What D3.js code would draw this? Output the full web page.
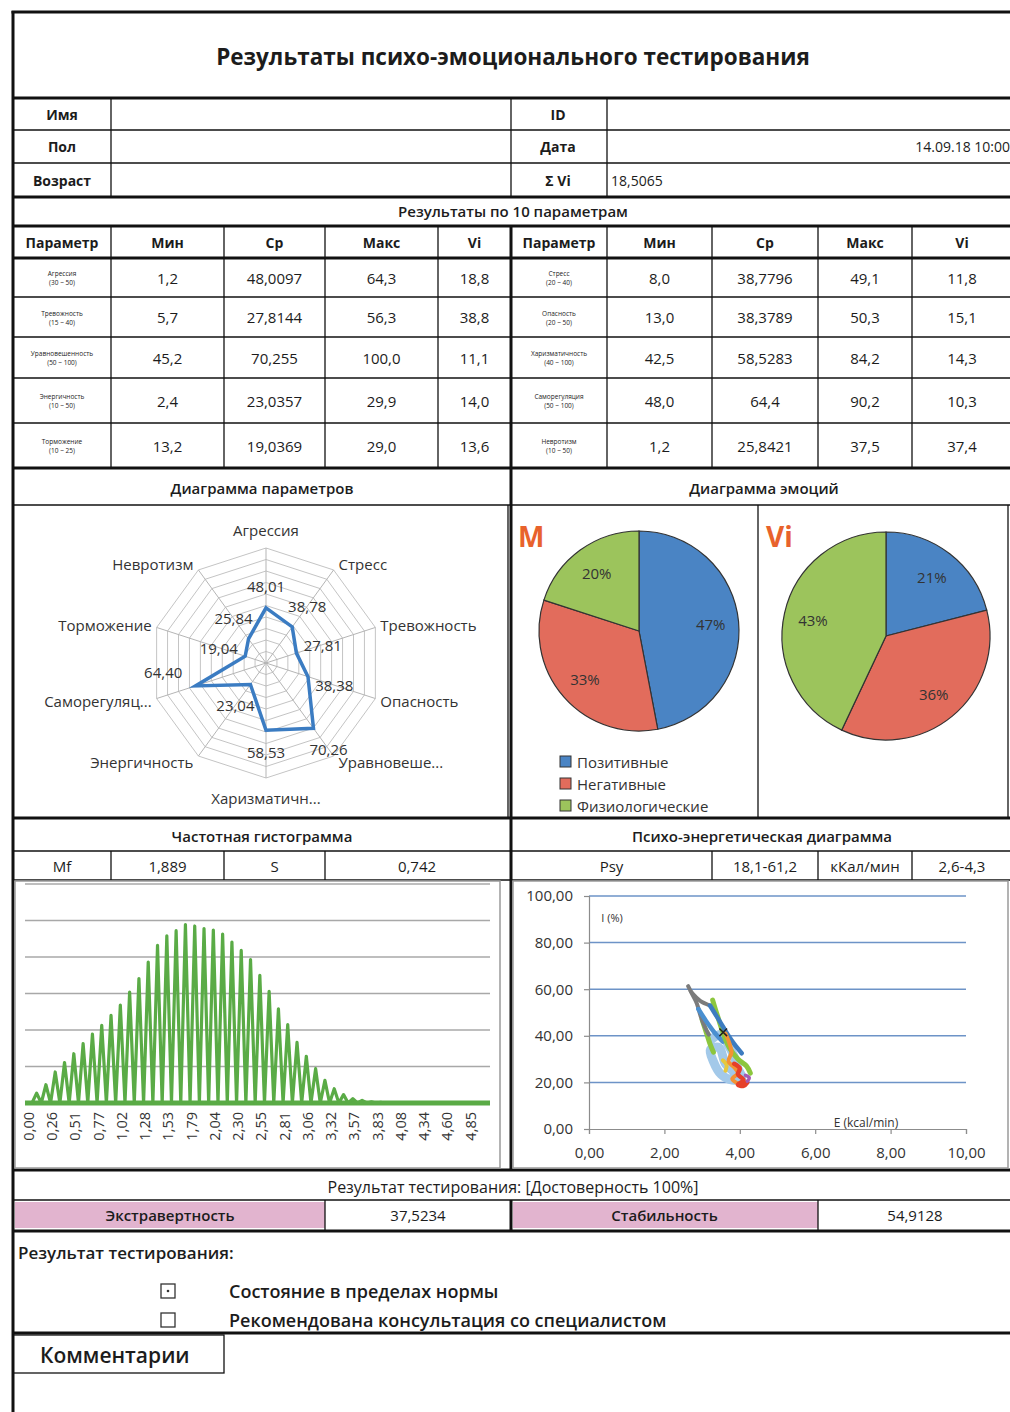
<!DOCTYPE html>
<html>
<head>
<meta charset="utf-8">
<script src="https://cdn.jsdelivr.net/npm/d3@7"></script>
<style>
  body { margin: 0; background: #fff; }
</style>
</head>
<body>
<div id="sheet"></div>
<script>
const width = 1010
const height = 1412

// --- header block
const reportTitle = "Результаты психо-эмоционального тестирования"
const infoLabels = ["Имя", "Пол", "Возраст"]
const infoLabels2 = ["ID", "Дата", "Σ Vi"]
const infoValues2 = ["", "14.09.18 10:00", "18,5065"]

// --- parameter table
const tableHead = ["Параметр", "Мин", "Ср", "Макс", "Vi"]
const leftParams = ["Агрессия", "Тревожность", "Уравновешенность", "Энергичность", "Торможение"]
const leftRanges = ["(30 ~ 50)", "(15 ~ 40)", "(50 ~ 100)", "(10 ~ 50)", "(10 ~ 25)"]
const leftMin = ["1,2", "5,7", "45,2", "2,4", "13,2"]
const leftAvg = ["48,0097", "27,8144", "70,255", "23,0357", "19,0369"]
const leftMax = ["64,3", "56,3", "100,0", "29,9", "29,0"]
const leftVi = ["18,8", "38,8", "11,1", "14,0", "13,6"]
const rightParams = ["Стресс", "Опасность", "Харизматичность", "Саморегуляция", "Невротизм"]
const rightRanges = ["(20 ~ 40)", "(20 ~ 50)", "(40 ~ 100)", "(50 ~ 100)", "(10 ~ 50)"]
const rightMin = ["8,0", "13,0", "42,5", "48,0", "1,2"]
const rightAvg = ["38,7796", "38,3789", "58,5283", "64,4", "25,8421"]
const rightMax = ["49,1", "50,3", "84,2", "90,2", "37,5"]
const rightVi = ["11,8", "15,1", "14,3", "10,3", "37,4"]

// --- radar
const radarAxes = ["Агрессия", "Стресс", "Тревожность", "Опасность", "Уравновеше...",
  "Харизматичн...", "Энергичность", "Саморегуляц...", "Торможение", "Невротизм"]
const radarValues = [48.01, 38.78, 27.81, 38.38, 70.26, 58.53, 23.04, 64.40, 19.04, 25.84]

// --- pies
const emotionNames = ["Позитивные", "Негативные", "Физиологические"]
const emotionM = [47, 33, 20]
const emotionVi = [21, 36, 43]
const emotionColors = ["#4a84c4", "#e26c5c", "#9cc45c"]

// --- histogram
const histStats = ["Mf", "1,889", "S", "0,742"]
const histValues = [
  0, 0, 2.7, 0, 5.0, 0, 8.5, 0, 11.1, 0,
  13.5, 0, 16.3, 0, 18.9, 0, 21.3, 0, 24.0, 0,
  26.8, 0, 30.4, 0, 34.1, 0, 38.6, 0, 43.2, 0,
  45.8, 0, 47.2, 0, 48.9, 0, 48.5, 0, 47.8, 0,
  47.4, 0, 46.3, 0, 44.1, 0, 41.8, 0, 39.3, 0,
  35.0, 0, 30.6, 0, 25.8, 0, 21.5, 0, 16.6, 0,
  12.8, 0, 9.4, 0, 6.2, 0, 3.9, 0, 2.3, 0,
  1.2, 0, 0.7, 0, 0.3, 0, 0.2, 0, 0, 0,
  0, 0, 0, 0, 0, 0, 0, 0, 0, 0,
  0, 0, 0, 0, 0, 0, 0, 0, 0, 0
]
const histLabels = ["0,00", "0,26", "0,51", "0,77", "1,02", "1,28", "1,53", "1,79", "2,04", "2,30",
  "2,55", "2,81", "3,06", "3,32", "3,57", "3,83", "4,08", "4,34", "4,60", "4,85"]

// --- psycho-energy diagram
const psyStats = ["Psy", "18,1-61,2", "кКал/мин", "2,6-4,3"]
const psyTicksX = [0, 2, 4, 6, 8, 10]
const psyTicksY = [0, 20, 40, 60, 80, 100]
const traceLightBlue = [[3.25, 38.5], [3.5, 40.5], [3.7, 36.0], [3.85, 31.0], [3.95, 26.0], [4.05, 22.0],
  [3.8, 21.0], [3.5, 23.5], [3.3, 29.0], [3.22, 34.0], [3.45, 35.0], [3.62, 28.0], [3.85, 24.5]]
const traceGreen2 = [[3.0, 47.0], [3.12, 41.0], [3.2, 37.0], [3.3, 33.0]]
const traceGray = [[2.63, 61.3], [2.75, 57.5], [2.86, 53.9], [2.96, 48.5], [3.08, 43.5], [3.18, 40.5]]
const traceGray2 = [[2.7, 59.0], [2.95, 55.0], [3.21, 53.0]]
const traceBlue = [[3.21, 53.0], [3.4, 48.0], [3.55, 44.0], [3.7, 40.0], [3.85, 36.5], [4.05, 32.5]]
const traceBlue2 = [[2.9, 51.5], [3.1, 46.5], [3.35, 41.0], [3.55, 37.5]]
const traceGreen = [[3.28, 55.3], [3.36, 51.0], [3.45, 46.5], [3.56, 41.0], [3.72, 35.0], [3.95, 30.0], [4.18, 27.0], [4.28, 24.0]]
const traceYellow = [[3.55, 29.5], [3.65, 27.5], [3.62, 25.0]]
const traceOrange = [[3.62, 41.0], [3.72, 37.0], [3.78, 33.0], [3.7, 29.0], [3.85, 26.5], [3.95, 24.0], [3.8, 21.5], [3.95, 19.5]]
const traceRed = [[3.85, 28.0], [4.0, 26.0], [3.95, 23.5], [4.1, 21.0], [3.95, 19.0], [4.1, 18.5], [4.2, 20.0]]
const tracePurple = [[4.15, 23.0], [4.25, 22.0], [4.2, 20.5]]
const psyMarker = [3.56, 41.5]

// --- bottom block
const resultLine = "Результат тестирования: [Достоверность 100%]"
const resultNames = ["Экстравертность", "Стабильность"]
const resultValues = ["37,5234", "54,9128"]
const conclusions = ["Состояние в пределах нормы", "Рекомендована консультация со специалистом"]

const ink = "#1c1c1c"
const thick = 3, thin = 1.3

const svg = d3.select("#sheet").append("svg")
  .attr("width", width).attr("height", height)
  .style("font-family", '"Open Sans", "Noto Sans", sans-serif')

function txt(x, y, s, size, opts = {}) {
  return svg.append("text")
    .attr("x", x).attr("y", y)
    .attr("text-anchor", opts.anchor || "middle")
    .attr("dominant-baseline", "central")
    .attr("font-size", size)
    .attr("font-weight", opts.weight || 400)
    .attr("fill", opts.fill || ink)
    .text(s)
}
function hline(y, x0, x1, w) {
  svg.append("line").attr("x1", x0).attr("x2", x1).attr("y1", y).attr("y2", y)
    .attr("stroke", "#111").attr("stroke-width", w)
}
function vline(x, y0, y1, w) {
  svg.append("line").attr("x1", x).attr("x2", x).attr("y1", y0).attr("y2", y1)
    .attr("stroke", "#111").attr("stroke-width", w)
}

const L = 13, R = 1012, MID = 511

// ---------- title
txt(513, 56, reportTitle, 22.5, {weight: 700})

// ---------- info table
const infoRows = [98, 130, 163, 197]
infoLabels.forEach((s, i) => {
  const cy = (infoRows[i] + infoRows[i + 1]) / 2
  txt(62, cy, s, 14, {weight: 700})
  txt(558, cy, infoLabels2[i], 14, {weight: 700})
})
txt(1010, (infoRows[1] + infoRows[2]) / 2, infoValues2[1], 14, {anchor: "end"})
txt(611, (infoRows[2] + infoRows[3]) / 2, infoValues2[2], 14, {anchor: "start"})
txt(513, 211, "Результаты по 10 параметрам", 15, {weight: 600})

// ---------- parameter table
const colsLeft = [L, 111, 224, 325, 438, MID]
const colsRight = [MID, 607, 712, 818, 912, R]
const rowY = [258, 297, 337, 378, 423, 468]

function paramBlock(cols, names, ranges, mins, avgs, maxs, vis) {
  tableHead.forEach((h, j) => txt((cols[j] + cols[j + 1]) / 2, 242, h, 14, {weight: 700}))
  names.forEach((n, i) => {
    const cy = (rowY[i] + rowY[i + 1]) / 2
    const c0 = (cols[0] + cols[1]) / 2
    txt(c0, cy - 4, n, 6.5)
    txt(c0, cy + 5, ranges[i], 6.5)
    ;[mins[i], avgs[i], maxs[i], vis[i]].forEach((v, j) =>
      txt((cols[j + 1] + cols[j + 2]) / 2, cy, v, 15))
  })
}
paramBlock(colsLeft, leftParams, leftRanges, leftMin, leftAvg, leftMax, leftVi)
paramBlock(colsRight, rightParams, rightRanges, rightMin, rightAvg, rightMax, rightVi)

// ---------- grid lines of the sheet
hline(12, L - 1.5, R, thick)
vline(L, 11, height, thick)
hline(98, L, R, thick)
hline(130, L, R, thin)
hline(163, L, R, thin)
hline(197, L, R, thick)
hline(226, L, R, thick)
hline(258, L, R, thick)
rowY.slice(1, -1).forEach(y => hline(y, L, R, thin))
hline(468, L, R, thick)
;[111, 511, 607].forEach(x => vline(x, 98, 197, thin))
colsLeft.slice(1, -1).concat(colsRight.slice(1, -1)).forEach(x => vline(x, 226, 468, thin))
vline(MID, 226, 1170, thick)
hline(505, L, R, thin)
vline(758, 505, 818, thin)
vline(1008, 505, 818, thin)
vline(508, 505, 818, thin)
hline(818, L, R, thick)
hline(851, L, R, thin)
hline(880, L, R, thin)
;[111, 224, 325, 712, 818, 912].forEach(x => vline(x, 851, 880, thin))
hline(1170, L, R, thick)
hline(1200, L, R, thin)
hline(1231, L, R, thick)
hline(1333, L, R, thick)

// ---------- section headers
txt(262, 488, "Диаграмма параметров", 15, {weight: 600})
txt(764, 488, "Диаграмма эмоций", 15, {weight: 600})
txt(262, 836, "Частотная гистограмма", 15, {weight: 600})
txt(762, 836, "Психо-энергетическая диаграмма", 15, {weight: 600})
const statColsL = [L, 111, 224, 325, 509]
const statColsR = [MID, 712, 818, 912, R]
histStats.forEach((s, j) => txt((statColsL[j] + statColsL[j + 1]) / 2, 866, s, 15))
psyStats.forEach((s, j) => txt((statColsR[j] + statColsR[j + 1]) / 2, 866, s, 15))

// ---------- radar chart
const rc = {x: 266, y: 663}
const rScale = d3.scaleLinear().domain([0, 100]).range([0, 115])
const nAx = radarAxes.length
const ang = i => i * 2 * Math.PI / nAx
const rpt = (i, v) => [rc.x + rScale(v) * Math.sin(ang(i)), rc.y - rScale(v) * Math.cos(ang(i))]
const radar = svg.append("g")
rScale.ticks(10).filter(t => t > 0).forEach(t => {
  radar.append("path")
    .attr("d", d3.line()(radarAxes.map((a, i) => rpt(i, t))) + "Z")
    .attr("fill", "none").attr("stroke", "#c4c4c4").attr("stroke-width", 1)
})
radarAxes.forEach((a, i) => {
  const [x, y] = rpt(i, 100)
  radar.append("line").attr("x1", rc.x).attr("y1", rc.y).attr("x2", x).attr("y2", y)
    .attr("stroke", "#b5b5b5").attr("stroke-width", 1)
  const s = Math.sin(ang(i)), c = Math.cos(ang(i))
  if (Math.abs(s) < 0.01) {
    txt(x, y + (c > 0 ? -18 : 20), a, 15, {fill: "#333"})
  } else {
    txt(x + (s > 0 ? 5 : -5), y - 7 * c, a, 15, {anchor: s > 0 ? "start" : "end", fill: "#333"})
  }
})
radar.append("path")
  .attr("d", d3.line()(radarValues.map((v, i) => rpt(i, v))) + "Z")
  .attr("fill", "none").attr("stroke", "#3b7cc2").attr("stroke-width", 3.5)
  .attr("stroke-linejoin", "miter")
radarValues.forEach((v, i) => {
  const [x, y] = rpt(i, v)
  const s = Math.sin(ang(i)), c = Math.cos(ang(i))
  const off = 22 + 6 * Math.abs(s)
  // the label just below the left axis sits above its point, as on the sheet
  const lift = (s < -0.9 && c < 0) ? -22 : 0
  txt(x + off * s - (lift ? 6 : 0), y - off * c + lift, d3.format(".2f")(v).replace(".", ","), 15, {fill: "#333"})
})

// ---------- pies
function drawPie(cx, cy, r, values, letter, lx) {
  const arcs = d3.pie().sort(null)(values)
  const arc = d3.arc().innerRadius(0).outerRadius(r)
  const lab = d3.arc().innerRadius(r * 0.72).outerRadius(r * 0.72)
  const g = svg.append("g").attr("transform", `translate(${cx},${cy})`)
  g.selectAll("path").data(arcs).join("path")
    .attr("d", arc)
    .attr("fill", (d, i) => emotionColors[i])
    .attr("stroke", "#333").attr("stroke-width", 1.2)
  g.selectAll("text").data(arcs).join("text")
    .attr("transform", d => `translate(${lab.centroid(d)})`)
    .attr("text-anchor", "middle").attr("dominant-baseline", "central")
    .attr("font-size", 15).attr("fill", "#333")
    .text(d => d.data + "%")
  txt(lx, 536, letter, 28, {anchor: "start", weight: 700, fill: "#e8622c"})
}
drawPie(639, 631, 100, emotionM, "M", 518)
drawPie(886, 636, 104, emotionVi, "Vi", 766)
emotionNames.forEach((n, i) => {
  svg.append("rect").attr("x", 560).attr("y", 756 + i * 22).attr("width", 11).attr("height", 11)
    .attr("fill", emotionColors[i]).attr("stroke", "#333").attr("stroke-width", 1)
  txt(577, 762 + i * 22, n, 15, {anchor: "start", fill: "#333"})
})

// ---------- histogram
svg.append("rect").attr("x", 15).attr("y", 881).attr("width", 485).attr("height", 287)
  .attr("fill", "none").attr("stroke", "#9a9a9a").attr("stroke-width", 1.5)
const hx = d3.scaleBand().domain(histValues.map((v, i) => i)).range([25, 490])
const hy = d3.scaleLinear().domain([0, 60]).range([1103, 884])
const hg = svg.append("g")
hy.ticks(6).filter(t => t > 0).forEach(t => {
  hg.append("line").attr("x1", 25).attr("x2", 490).attr("y1", hy(t)).attr("y2", hy(t))
    .attr("stroke", "#a8a8a8").attr("stroke-width", 1.5)
})
hg.append("line").attr("x1", 25).attr("x2", 490).attr("y1", hy(0)).attr("y2", hy(0))
  .attr("stroke", "#5aab46").attr("stroke-width", 5)
hg.append("path")
  .attr("d", d3.line().x((v, i) => hx(i) + hx.bandwidth() / 2).y(v => hy(v))(histValues))
  .attr("fill", "none").attr("stroke", "#5aab46").attr("stroke-width", 3.2)
  .attr("stroke-linejoin", "round").attr("stroke-linecap", "round")
histLabels.forEach((s, k) => {
  const x = hx(k * 5) + hx.bandwidth() / 2
  hg.append("text").attr("transform", `translate(${x + 1},1112) rotate(-90)`)
    .attr("text-anchor", "end").attr("dominant-baseline", "central")
    .attr("font-size", 14.5).attr("fill", "#333").text(s)
})

// ---------- psycho-energy diagram
svg.append("rect").attr("x", 513).attr("y", 881).attr("width", 495).attr("height", 287)
  .attr("fill", "none").attr("stroke", "#9a9a9a").attr("stroke-width", 1.5)
const px = d3.scaleLinear().domain([0, 10]).range([589, 966])
const py = d3.scaleLinear().domain([0, 100]).range([1129, 896])
const pg = svg.append("g")
psyTicksY.filter(t => t > 0).forEach(t => {
  pg.append("line").attr("x1", px(0)).attr("x2", px(10)).attr("y1", py(t)).attr("y2", py(t))
    .attr("stroke", "#6d93c7").attr("stroke-width", 1.5)
})
pg.append("g").attr("transform", `translate(0,${py(0)})`)
  .call(d3.axisBottom(px).tickValues(psyTicksX).tickSize(5).tickPadding(13)
    .tickFormat(d => d3.format(".2f")(d).replace(".", ",")))
pg.append("g").attr("transform", `translate(${px(0)},0)`)
  .call(d3.axisLeft(py).tickValues(psyTicksY).tickSize(5).tickPadding(11)
    .tickFormat(d => d3.format(".2f")(d).replace(".", ",")))
pg.selectAll(".domain, .tick line").attr("stroke", "#8c8c8c").attr("stroke-width", 1.2)
pg.selectAll(".tick text").attr("font-size", 15).attr("fill", "#333")
  .style("font-family", '"Open Sans", "Noto Sans", sans-serif')

const traces = [
  [traceLightBlue, "#a3c9e9", 9],
  [traceGreen2, "#8cc63e", 5],
  [traceGray, "#7b7b7b", 4],
  [traceGray2, "#7b7b7b", 4],
  [traceBlue2, "#4a8fd0", 4.5],
  [traceGreen, "#8cc63e", 5],
  [traceBlue, "#3d7cc0", 4.5],
  [traceYellow, "#e7c93c", 4],
  [traceOrange, "#f39234", 4],
  [traceRed, "#e6402a", 4.5],
  [tracePurple, "#a35bb5", 3.5]
]
const pline = d3.line().x(d => px(d[0])).y(d => py(d[1])).curve(d3.curveCatmullRom)
traces.forEach(([pts, color, w]) => {
  pg.append("path").attr("d", pline(pts))
    .attr("fill", "none").attr("stroke", color).attr("stroke-width", w)
    .attr("stroke-linecap", "round").attr("stroke-linejoin", "round")
})
pg.append("path").attr("d", d3.symbol(d3.symbolX, 40)())
  .attr("transform", `translate(${px(psyMarker[0])},${py(psyMarker[1])})`)
  .attr("fill", "none").attr("stroke", "#222").attr("stroke-width", 1.5)
txt(612, 917, "I (%)", 11, {fill: "#333"})
txt(866, 1122, "E (kcal/min)", 12, {fill: "#333"})

// ---------- results
txt(513, 1187, resultLine, 16, {weight: 500})
const resCols = [15, 325, 511, 818, R]
resultNames.forEach((n, i) => {
  const x0 = resCols[i * 2], x1 = resCols[i * 2 + 1], x2 = resCols[i * 2 + 2]
  svg.append("rect").attr("x", x0 + (i ? 2 : 0)).attr("y", 1202).attr("width", x1 - x0 - (i ? 2 : 0)).attr("height", 26)
    .attr("fill", "#e2b4cf")
  txt((x0 + x1) / 2, 1215, n, 15, {weight: 600})
  txt((x1 + x2) / 2, 1215, resultValues[i], 15, {weight: 500})
})
;[325, 818].forEach(x => vline(x, 1200, 1231, thin))
vline(MID, 1200, 1231, thick)

txt(18, 1252, "Результат тестирования:", 17, {anchor: "start", weight: 600})
conclusions.forEach((c, i) => {
  const cy = 1291 + i * 29
  svg.append("rect").attr("x", 161).attr("y", cy - 7).attr("width", 14).attr("height", 14)
    .attr("fill", "none").attr("stroke", "#333").attr("stroke-width", 1.3)
  if (i === 0) svg.append("circle").attr("cx", 168).attr("cy", cy).attr("r", 1.3).attr("fill", "#333")
  txt(229, cy, c, 18, {anchor: "start", weight: 600})
})

svg.append("rect").attr("x", L).attr("y", 1335).attr("width", 211).attr("height", 38)
  .attr("fill", "none").attr("stroke", "#111").attr("stroke-width", thin)
txt(40, 1355, "Комментарии", 21, {anchor: "start", weight: 600})
</script>
</body>
</html>
